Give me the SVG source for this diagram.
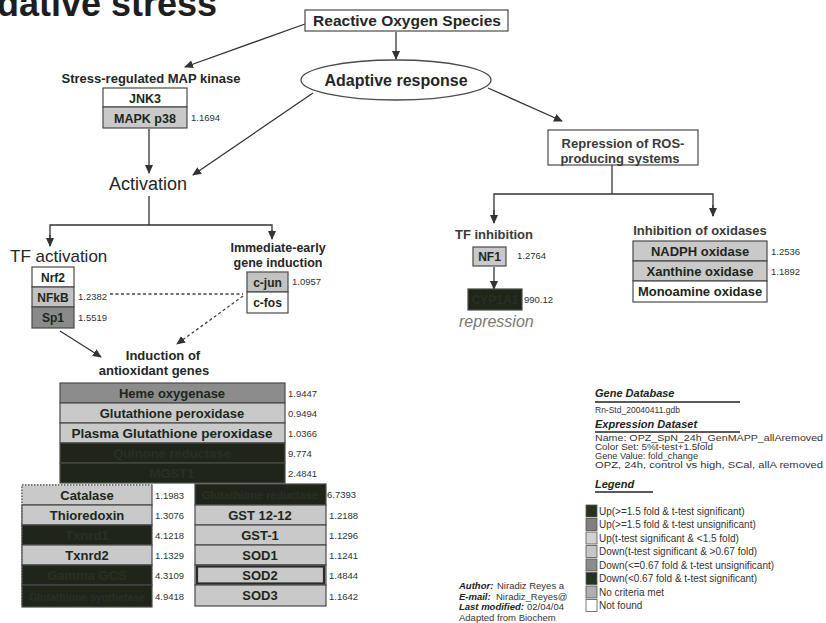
<svg xmlns="http://www.w3.org/2000/svg" width="826" height="623" viewBox="0 0 826 623">
<defs>
<marker id="ah" markerWidth="9" markerHeight="8" refX="8" refY="4" orient="auto" markerUnits="userSpaceOnUse">
<path d="M0,0 L9,4 L0,8 z" fill="#333"/>
</marker>
<style>
text{font-family:"Liberation Sans",Arial,sans-serif;fill:#262626}
.lbl{font-weight:bold;font-size:13px;text-anchor:middle}
.hd{font-weight:bold;font-size:13px;text-anchor:middle;fill:#3a3a3a}
.cell{font-weight:bold;font-size:13px;text-anchor:middle;fill:#1d261b}
.dk{font-weight:bold;font-size:13px;text-anchor:middle;fill:#283024}
.val{font-size:9.5px;fill:#333}
.lg{font-size:10px;fill:#333}
.ls{font-size:8.5px;fill:#333}
.lh{font-size:11px;font-weight:bold;font-style:italic;fill:#222}
.au{font-size:9.5px;fill:#333}
.aub{font-size:9.5px;font-weight:bold;font-style:italic;fill:#222}
.bx{stroke:#4a4a4a;stroke-width:1.2}
.w{fill:#ffffff}
.lt{fill:#c9c9c9}
.md{fill:#8c8c8c}
.dr{fill:#1f2619}
.ln{stroke:#333;stroke-width:1.3;fill:none}
.da{stroke:#444;stroke-width:1.3;fill:none;stroke-dasharray:3,2.5}
</style>
</defs>
<rect width="826" height="623" fill="#ffffff"/>

<text x="-3" y="16" style="font-size:36px;font-weight:bold;fill:#1e1e1e">dative stress</text>

<g id="connectors">
<line class="ln" x1="305" y1="24" x2="185" y2="67" marker-end="url(#ah)"/>
<line class="ln" x1="396" y1="32" x2="396" y2="59" marker-end="url(#ah)"/>
<line class="ln" x1="313" y1="93" x2="193" y2="175" marker-end="url(#ah)"/>
<line class="ln" x1="488" y1="88" x2="562" y2="121" marker-end="url(#ah)"/>
<line class="ln" x1="149" y1="129" x2="149" y2="173" marker-end="url(#ah)"/>
<polyline class="ln" points="149,196 149,225"/>
<polyline class="ln" points="50,246 50,225 272,225 272,238"/>
<line class="ln" x1="50" y1="235" x2="50" y2="246" marker-end="url(#ah)"/>
<line class="ln" x1="272" y1="230" x2="272" y2="239" marker-end="url(#ah)"/>
<polyline class="ln" points="612,165 612,194"/>
<polyline class="ln" points="494,222 494,194 713,194 713,216"/>
<line class="ln" x1="494" y1="210" x2="494" y2="223" marker-end="url(#ah)"/>
<line class="ln" x1="713" y1="205" x2="713" y2="216" marker-end="url(#ah)"/>
<line class="ln" x1="494" y1="267" x2="494" y2="289" marker-end="url(#ah)"/>
<line class="ln" x1="60" y1="331" x2="101" y2="357" marker-end="url(#ah)"/>
<line class="da" x1="110" y1="294" x2="243" y2="294"/>
<line class="da" x1="243" y1="296" x2="177" y2="344" marker-end="url(#ah)"/>
</g>

<g id="ros">
<rect class="bx w" x="305" y="10" width="203" height="21"/>
<text class="lbl" x="407" y="26" style="font-size:15.5px">Reactive Oxygen Species</text>
</g>

<g id="adaptive">
<ellipse cx="396" cy="80" rx="95" ry="20" fill="#fff" stroke="#4a4a4a" stroke-width="1.3"/>
<text class="lbl" x="396" y="86" style="font-size:16px">Adaptive response</text>
</g>

<g id="mapk">
<text class="lbl" x="151" y="83">Stress-regulated MAP kinase</text>
<rect class="bx w" x="103" y="88" width="84" height="19"/>
<rect class="bx lt" x="103" y="107" width="84" height="21"/>
<text class="cell" x="145" y="103" style="font-size:12.5px">JNK3</text>
<text class="cell" x="145" y="123" style="font-size:12.5px">MAPK p38</text>
<text class="val" x="191" y="121">1.1694</text>
</g>

<g id="activation">
<text x="148" y="190" style="font-size:18px" text-anchor="middle">Activation</text>
</g>

<g id="repression">
<rect class="bx w" x="548" y="130" width="150" height="35"/>
<text class="hd" x="623" y="148">Repression of ROS-</text>
<text class="hd" x="620" y="163">producing systems</text>
</g>

<g id="tf-activation">
<text x="10" y="262" style="font-size:17px">TF activation</text>
<rect class="bx w" x="32" y="267" width="42" height="20"/>
<rect class="bx" fill="#c2c2c2" x="32" y="287" width="42" height="20"/>
<rect class="bx" fill="#8a8a8a" x="32" y="307" width="42" height="21"/>
<text class="cell" x="53" y="282" style="font-size:12px">Nrf2</text>
<text class="cell" x="53" y="302" style="font-size:12px">NFkB</text>
<text class="cell" x="53" y="322" style="font-size:12px">Sp1</text>
<text class="val" x="78" y="300">1.2382</text>
<text class="val" x="78" y="321">1.5519</text>
</g>

<g id="immediate-early">
<text class="lbl" x="278" y="252" style="font-size:12.5px">Immediate-early</text>
<text class="lbl" x="278" y="267" style="font-size:12.5px">gene induction</text>
<rect class="bx" fill="#c2c2c2" x="247" y="272" width="41" height="20"/>
<rect class="bx w" x="247" y="292" width="41" height="21"/>
<text class="cell" x="267.5" y="287" style="font-size:12px">c-jun</text>
<text class="cell" x="267.5" y="307" style="font-size:12px">c-fos</text>
<text class="val" x="292" y="285">1.0957</text>
</g>

<g id="tf-inhibition">
<text class="hd" x="494" y="239">TF inhibition</text>
<rect class="bx lt" x="473" y="247" width="33" height="19"/>
<text class="cell" x="489.5" y="261" style="font-size:12px">NF1</text>
<text class="val" x="517" y="259">1.2764</text>
</g>

<g id="cyp1a1">
<rect class="bx dr" x="468" y="289" width="54" height="21"/>
<text class="dk" x="495" y="304" style="font-size:12px">CYP1A1</text>
<text class="val" x="524" y="303">990.12</text>
<text x="459" y="327" style="font-size:16px;font-style:italic;fill:#7a7a7a">repression</text>
</g>

<g id="oxidases">
<text class="hd" x="700" y="235">Inhibition of oxidases</text>
<rect class="bx lt" x="633" y="241" width="134" height="20"/>
<rect class="bx lt" x="633" y="261" width="134" height="20"/>
<rect class="bx w" x="633" y="281" width="134" height="21"/>
<text class="cell" x="700" y="256">NADPH oxidase</text>
<text class="cell" x="700" y="276">Xanthine oxidase</text>
<text class="cell" x="700" y="296">Monoamine oxidase</text>
<text class="val" x="771" y="255">1.2536</text>
<text class="val" x="771" y="275">1.1892</text>
</g>

<g id="antioxidant-label">
<text class="lbl" x="163" y="360">Induction of</text>
<text class="lbl" x="154" y="375">antioxidant genes</text>
</g>

<g id="antioxidant-top">
<rect class="bx md" x="60" y="383" width="225" height="20"/>
<rect class="bx lt" x="60" y="403" width="225" height="20"/>
<rect class="bx lt" x="60" y="423" width="225" height="20"/>
<rect class="bx dr" x="60" y="443" width="225" height="20"/>
<rect class="bx dr" x="60" y="463" width="225" height="20"/>
<text class="cell" x="172" y="398">Heme oxygenase</text>
<text class="cell" x="172" y="418">Glutathione peroxidase</text>
<text class="cell" x="172" y="438" style="font-size:13.5px">Plasma Glutathione peroxidase</text>
<text class="dk" x="172" y="458">Quinone reductase</text>
<text class="dk" x="172" y="478">MGST1</text>
<text class="val" x="288" y="397">1.9447</text>
<text class="val" x="288" y="417">0.9494</text>
<text class="val" x="288" y="437">1.0366</text>
<text class="val" x="288" y="457">9.774</text>
<text class="val" x="288" y="477">2.4841</text>
</g>

<g id="antioxidant-left">
<rect class="bx lt" x="22" y="485" width="130" height="20"/>
<path d="M22,605 L22,485 L152,485" fill="none" stroke="#fff" stroke-width="1.4"/>
<path d="M22,605 L22,485 L152,485" fill="none" stroke="#555" stroke-width="1.4" stroke-dasharray="1.5,1.5"/>
<rect class="bx lt" x="22" y="505" width="130" height="20"/>
<rect class="bx dr" x="22" y="525" width="130" height="20"/>
<rect class="bx lt" x="22" y="545" width="130" height="20"/>
<rect class="bx dr" x="22" y="565" width="130" height="20"/>
<rect class="bx dr" x="22" y="585" width="130" height="22"/>
<text class="cell" x="87" y="500">Catalase</text>
<text class="cell" x="87" y="520">Thioredoxin</text>
<text class="dk" x="87" y="540">Txnrd1</text>
<text class="cell" x="87" y="560">Txnrd2</text>
<text class="dk" x="87" y="580">Gamma GCS</text>
<text class="dk" x="87" y="601" style="font-size:10.5px">Glutathione synthetase</text>
<text class="val" x="155" y="499">1.1983</text>
<text class="val" x="155" y="519">1.3076</text>
<text class="val" x="155" y="539">4.1218</text>
<text class="val" x="155" y="559">1.1329</text>
<text class="val" x="155" y="579">4.3109</text>
<text class="val" x="155" y="600">4.9418</text>
</g>

<g id="antioxidant-right">
<rect class="bx dr" x="195" y="484" width="131" height="21"/>
<rect class="bx lt" x="195" y="505" width="131" height="20"/>
<rect class="bx lt" x="195" y="525" width="131" height="20"/>
<rect class="bx lt" x="195" y="545" width="131" height="20"/>
<rect class="bx lt" x="195" y="565" width="131" height="20"/>
<rect x="197" y="566.5" width="127" height="17" fill="#c9c9c9" stroke="#2a2a2a" stroke-width="2.2"/>
<rect class="bx lt" x="195" y="585" width="131" height="21"/>
<text class="dk" x="260" y="499" style="font-size:11px">Glutathione reductase</text>
<text class="cell" x="260" y="520">GST 12-12</text>
<text class="cell" x="260" y="540">GST-1</text>
<text class="cell" x="260" y="560">SOD1</text>
<text class="cell" x="260" y="580">SOD2</text>
<text class="cell" x="260" y="600">SOD3</text>
<text class="val" x="327" y="498">6.7393</text>
<text class="val" x="329" y="519">1.2188</text>
<text class="val" x="329" y="539">1.1296</text>
<text class="val" x="329" y="559">1.1241</text>
<text class="val" x="329" y="579">1.4844</text>
<text class="val" x="329" y="600">1.1642</text>
</g>

<g id="author">
<text class="aub" x="459" y="589">Author:</text>
<text class="au" x="497" y="589">Niradiz Reyes a</text>
<text class="aub" x="459" y="599.5">E-mail:</text>
<text class="au" x="496" y="599.5">Niradiz_Reyes@</text>
<text class="aub" x="459" y="610">Last modified:</text>
<text class="au" x="527" y="610">02/04/04</text>
<text class="au" x="459" y="620.5">Adapted from Biochem</text>
</g>

<g id="legend">
<rect x="584" y="502" width="242" height="121" fill="#fff"/>
<text class="lh" x="595" y="397">Gene Database</text>
<line x1="595" y1="402" x2="740" y2="402" stroke="#222" stroke-width="1.3"/>
<text class="ls" x="595" y="413">Rn-Std_20040411.gdb</text>
<text class="lh" x="595" y="428">Expression Dataset</text>
<line x1="595" y1="432" x2="740" y2="432" stroke="#222" stroke-width="1.3"/>
<text class="ls" x="595" y="441" textLength="228" lengthAdjust="spacingAndGlyphs">Name: OPZ_SpN_24h_GenMAPP_allAremoved</text>
<text class="ls" x="595" y="450" textLength="118" lengthAdjust="spacingAndGlyphs">Color Set: 5%t-test+1.5fold</text>
<text class="ls" x="595" y="459" textLength="103" lengthAdjust="spacingAndGlyphs">Gene Value: fold_change</text>
<text class="ls" x="595" y="468" textLength="228" lengthAdjust="spacingAndGlyphs">OPZ, 24h, control vs high, SCal, allA removed</text>
<text class="lh" x="595" y="488">Legend</text>
<line x1="595" y1="492" x2="653" y2="492" stroke="#222" stroke-width="1.3"/>
<g stroke="#555" stroke-width="0.8">
<rect x="586" y="505" width="11" height="12" fill="#27321f"/>
<rect x="586" y="518.5" width="11" height="12" fill="#7f7f7f"/>
<rect x="586" y="532" width="11" height="12" fill="#d2d2d2"/>
<rect x="586" y="545.5" width="11" height="12" fill="#c6c6c6"/>
<rect x="586" y="559" width="11" height="12" fill="#8c8c8c"/>
<rect x="586" y="572.5" width="11" height="12" fill="#27321f"/>
<rect x="586" y="586" width="11" height="12" fill="#afafaf"/>
<rect x="586" y="599.5" width="11" height="12" fill="#ffffff"/>
</g>
<text class="lg" x="599" y="514.5">Up(&gt;=1.5 fold &amp; t-test significant)</text>
<text class="lg" x="599" y="528">Up(&gt;=1.5 fold &amp; t-test unsignificant)</text>
<text class="lg" x="599" y="541.5">Up(t-test significant &amp; &lt;1.5 fold)</text>
<text class="lg" x="599" y="555">Down(t-test significant &amp; &gt;0.67 fold)</text>
<text class="lg" x="599" y="568.5">Down(&lt;=0.67 fold &amp; t-test unsignificant)</text>
<text class="lg" x="599" y="582">Down(&lt;0.67 fold &amp; t-test significant)</text>
<text class="lg" x="599" y="595.5">No criteria met</text>
<text class="lg" x="599" y="609">Not found</text>
</g>
</svg>
